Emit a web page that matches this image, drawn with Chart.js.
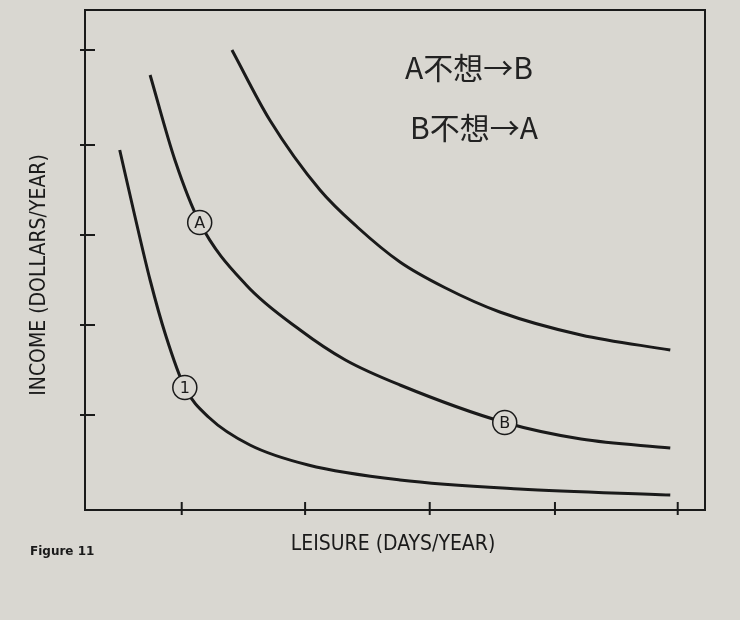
<!DOCTYPE html>
<html><head><meta charset="utf-8">
<script src="https://cdn.jsdelivr.net/npm/chart.js@4"></script>
<style>body{margin:0;background:#d9d7d1}canvas{display:block}</style></head>
<body><div style="width:740px;height:620px"><canvas id="c"></canvas></div>
<script>
const curve1 = [[0.56,7.2],[0.8,5.9],[1.05,4.6],[1.3,3.5],[1.61,2.45],[2.0,1.85],[2.66,1.3],[3.6,0.9],[5.08,0.6],[7.0,0.42],[9.44,0.3]];
const curve2 = [[1.05,8.7],[1.45,7.0],[1.85,5.75],[2.6,4.5],[3.47,3.6],[4.2,3.0],[5.08,2.5],[6.77,1.75],[8.0,1.42],[9.44,1.24]];
const curve3 = [[2.37,9.2],[2.98,7.8],[3.79,6.4],[4.4,5.65],[5.08,4.96],[5.8,4.45],[6.69,3.96],[8.0,3.5],[9.44,3.2]];
const xTicks = [1.56,3.55,5.56,7.58,9.56];
const yTicks = [1.9,3.7,5.5,7.3,9.2];
const markers = [{label:'A',x:1.85,y:5.75},{label:'B',x:6.77,y:1.75},{label:'1',x:1.61,y:2.45}];
const xTitle = 'LEISURE (DAYS/YEAR)';
const yTitle = 'INCOME (DOLLARS/YEAR)';
const toXY = a => a.map(p=>({x:p[0],y:p[1]}));
const ds = c => ({data:toXY(c),showLine:true,cubicInterpolationMode:'monotone',borderColor:'#1a1a1a',borderWidth:3,pointRadius:0,fill:false});
const deco = {id:'deco',afterDraw(ch){
  const c=ch.ctx,a=ch.chartArea,xs=ch.scales.x,ys=ch.scales.y;
  c.save();c.strokeStyle='#1a1a1a';c.lineWidth=2;
  c.strokeRect(a.left,a.top,a.right-a.left,a.bottom-a.top);
  xTicks.forEach(v=>{const p=xs.getPixelForValue(v);c.beginPath();c.moveTo(p,a.bottom+5);c.lineTo(p,a.bottom-8);c.stroke();});
  yTicks.forEach(v=>{const p=ys.getPixelForValue(v);c.beginPath();c.moveTo(a.left-5,p);c.lineTo(a.left+10,p);c.stroke();});
  markers.forEach(m=>{const px=xs.getPixelForValue(m.x),py=ys.getPixelForValue(m.y);
    c.beginPath();c.arc(px,py,12,0,Math.PI*2);c.fillStyle='#d9d7d1';c.fill();c.lineWidth=1.5;c.stroke();
    c.fillStyle='#1a1a1a';c.font='16px "DejaVu Sans"';c.textAlign='center';c.textBaseline='middle';c.fillText(m.label,px,py+1);});
  c.fillStyle='#1a1a1a';c.font='21px "Liberation Sans Narrow","DejaVu Sans Condensed",sans-serif';c.textAlign='center';c.textBaseline='middle';
  c.fillText(xTitle,(a.left+a.right)/2-2,545);
  c.save();c.translate(40,275);c.rotate(-Math.PI/2);c.fillText(yTitle,0,0);c.restore();
  c.font='bold 12px "DejaVu Sans"';c.textAlign='left';c.fillText('Figure 11',30,552);
  c.font='30px "Noto Sans CJK SC"';c.fillStyle='#222';
  c.fillText('A不想→B',405,68);c.fillText('B不想→A',410,128);
  c.restore();}};
new Chart(document.getElementById('c'),{type:'scatter',
 data:{datasets:[ds(curve1),ds(curve2),ds(curve3)]},
 options:{responsive:true,maintainAspectRatio:false,animation:false,
  layout:{padding:{left:85,right:35,top:10,bottom:110}},
  plugins:{legend:{display:false},tooltip:{enabled:false}},
  scales:{x:{min:0,max:10,display:false},y:{min:0,max:10,display:false}}},
 plugins:[deco]});
</script></body></html>
